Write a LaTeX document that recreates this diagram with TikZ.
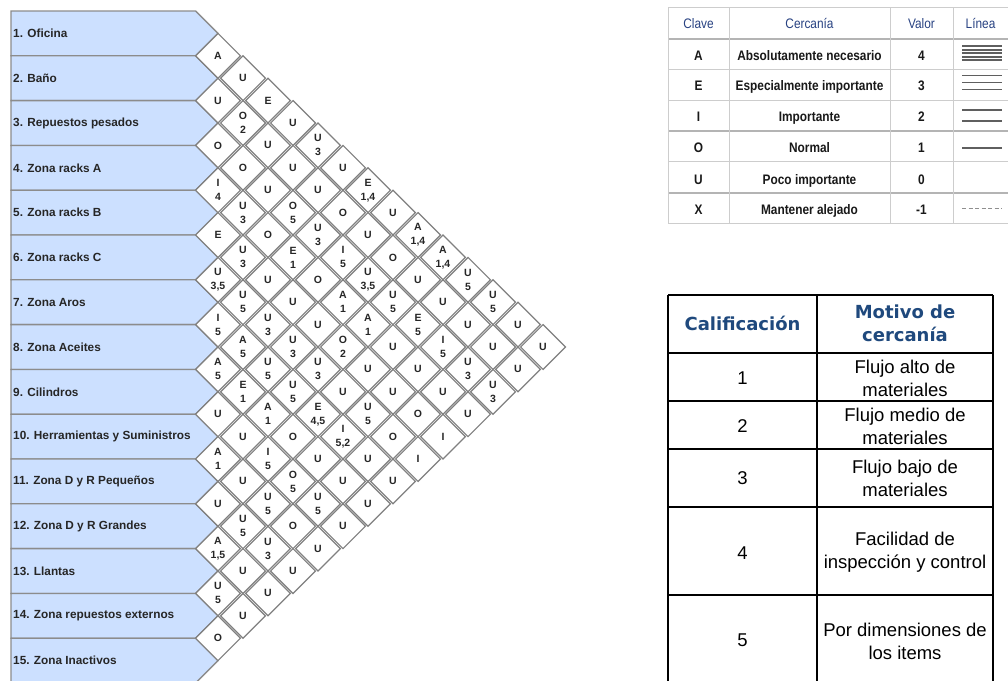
\documentclass[tikz,border=0pt]{standalone}
\usepackage{fontspec}
\setmainfont{Liberation Sans}
\newfontfamily\hdrfont{DejaVu Sans}
\newfontfamily\condfont[FakeStretch=0.86]{Liberation Sans}
\definecolor{boxfill}{RGB}{204,224,255}
\definecolor{boxline}{RGB}{140,140,140}
\definecolor{dline}{RGB}{128,128,128}
\definecolor{tgray}{RGB}{205,205,205}
\definecolor{tgrayk}{RGB}{180,180,180}
\definecolor{hblue}{RGB}{40,66,130}
\definecolor{hblueb}{RGB}{31,73,125}
\definecolor{lsym}{RGB}{95,95,95}
\newcommand\relcell[3]{%
  \path (218+25*#2-25*#1-25, 11+22.4*#1+22.4*#2-22.4) coordinate (c#1-#2);
  \draw[dmd] (c#1-#2) +(0,-22.4) -- +(22.4,0) -- +(0,22.4) -- +(-22.4,0) -- cycle;
  \node[dtxt] (d#1-#2) at (c#1-#2) {#3};
}
\begin{document}
\begin{tikzpicture}[x=1pt,y=-1pt,
  rowbox/.style={draw=boxline,line width=1.3pt,fill=boxfill,line join=miter},
  rowlbl/.style={anchor=west,inner sep=0pt,font=\fontsize{11.8}{14}\selectfont\bfseries,text=black!85},
  dmd/.style={draw=dline,line width=1.2pt,fill=white},
  dtxt/.style={inner sep=0pt,align=center,font=\fontsize{10.5}{14}\selectfont\bfseries,text=black!85},
  tone/.style={draw=tgray,line width=1pt},
  tonek/.style={draw=tgrayk,line width=2pt},
  t1h/.style={anchor=base,inner sep=0pt,font=\condfont\fontsize{13.8}{15}\selectfont,text=hblue},
  t1b/.style={anchor=base,inner sep=0pt,font=\condfont\bfseries\fontsize{13.8}{15}\selectfont,text=black!90},
  lsy/.style={draw=lsym,line width=1.8pt},
  ttwo/.style={draw=black,line width=1.5pt},
  t2h/.style={inner sep=0pt,align=center,font=\hdrfont\bfseries\fontsize{18}{23}\selectfont,text=hblueb},
  t2b/.style={inner sep=0pt,align=center,font=\fontsize{18.5}{23}\selectfont,text=black}
]
\useasboundingbox (0,0) rectangle (1008,680);
\clip (0,0) rectangle (1008,680);
\fill[white] (0,0) rectangle (1008,680);

% ---- department boxes ----
\foreach \i/\lab in {1/{1. Oficina},2/{2. Baño},3/{3. Repuestos pesados},4/{4. Zona racks A},
  5/{5. Zona racks B},6/{6. Zona racks C},7/{7. Zona Aros},8/{8. Zona Aceites},9/{9. Cilindros},
  10/{10. Herramientas y Suministros},11/{11. Zona D y R Pequeños},12/{12. Zona D y R Grandes},
  13/{13. Llantas},14/{14. Zona repuestos externos},15/{15. Zona Inactivos}}{
  \pgfmathsetmacro\yt{11+44.8*(\i-1)}
  \draw[rowbox] (11,\yt) -- (195.6,\yt) -- (218,\yt+22.4) -- (195.6,\yt+44.8) -- (11,\yt+44.8) -- cycle;
  \node[rowlbl] (r\i) at (13,\yt+22.4) {\lab};
}

% ---- relationship diamonds ----
\relcell{1}{2}{A}
\relcell{1}{3}{U}
\relcell{2}{3}{U}
\relcell{1}{4}{E}
\relcell{2}{4}{O\\2}
\relcell{1}{5}{U}
\relcell{3}{4}{O}
\relcell{2}{5}{U}
\relcell{1}{6}{U\\3}
\relcell{3}{5}{O}
\relcell{2}{6}{U}
\relcell{1}{7}{U}
\relcell{4}{5}{I\\4}
\relcell{3}{6}{U}
\relcell{2}{7}{U}
\relcell{1}{8}{E\\1,4}
\relcell{4}{6}{U\\3}
\relcell{3}{7}{O\\5}
\relcell{2}{8}{O}
\relcell{1}{9}{U}
\relcell{5}{6}{E}
\relcell{4}{7}{O}
\relcell{3}{8}{U\\3}
\relcell{2}{9}{U}
\relcell{1}{10}{A\\1,4}
\relcell{5}{7}{U\\3}
\relcell{4}{8}{E\\1}
\relcell{3}{9}{I\\5}
\relcell{2}{10}{O}
\relcell{1}{11}{A\\1,4}
\relcell{6}{7}{U\\3,5}
\relcell{5}{8}{U}
\relcell{4}{9}{O}
\relcell{3}{10}{U\\3,5}
\relcell{2}{11}{U}
\relcell{1}{12}{U\\5}
\relcell{6}{8}{U\\5}
\relcell{5}{9}{U}
\relcell{4}{10}{A\\1}
\relcell{3}{11}{U\\5}
\relcell{2}{12}{U}
\relcell{1}{13}{U\\5}
\relcell{7}{8}{I\\5}
\relcell{6}{9}{U\\3}
\relcell{5}{10}{U}
\relcell{4}{11}{A\\1}
\relcell{3}{12}{E\\5}
\relcell{2}{13}{U}
\relcell{1}{14}{U}
\relcell{7}{9}{A\\5}
\relcell{6}{10}{U\\3}
\relcell{5}{11}{O\\2}
\relcell{4}{12}{U}
\relcell{3}{13}{I\\5}
\relcell{2}{14}{U}
\relcell{1}{15}{U}
\relcell{8}{9}{A\\5}
\relcell{7}{10}{U\\5}
\relcell{6}{11}{U\\3}
\relcell{5}{12}{U}
\relcell{4}{13}{U}
\relcell{3}{14}{U\\3}
\relcell{2}{15}{U}
\relcell{8}{10}{E\\1}
\relcell{7}{11}{U\\5}
\relcell{6}{12}{U}
\relcell{5}{13}{U}
\relcell{4}{14}{U}
\relcell{3}{15}{U\\3}
\relcell{9}{10}{U}
\relcell{8}{11}{A\\1}
\relcell{7}{12}{E\\4,5}
\relcell{6}{13}{U\\5}
\relcell{5}{14}{O}
\relcell{4}{15}{U}
\relcell{9}{11}{U}
\relcell{8}{12}{O}
\relcell{7}{13}{I\\5,2}
\relcell{6}{14}{O}
\relcell{5}{15}{I}
\relcell{10}{11}{A\\1}
\relcell{9}{12}{I\\5}
\relcell{8}{13}{U}
\relcell{7}{14}{U}
\relcell{6}{15}{I}
\relcell{10}{12}{U}
\relcell{9}{13}{O\\5}
\relcell{8}{14}{U}
\relcell{7}{15}{U}
\relcell{11}{12}{U}
\relcell{10}{13}{U\\5}
\relcell{9}{14}{U\\5}
\relcell{8}{15}{U}
\relcell{11}{13}{U\\5}
\relcell{10}{14}{O}
\relcell{9}{15}{U}
\relcell{12}{13}{A\\1,5}
\relcell{11}{14}{U\\3}
\relcell{10}{15}{U}
\relcell{12}{14}{U}
\relcell{11}{15}{U}
\relcell{13}{14}{U\\5}
\relcell{12}{15}{U}
\relcell{13}{15}{U}
\relcell{14}{15}{O}

% ---- table 1: closeness codes ----
\foreach \yy in {7,69.3,100.1,161.7,223.3}{\draw[tone] (668,\yy) -- (1012,\yy);}
\foreach \yy in {38.5,130.9,192.5}{\draw[tonek] (668,\yy) -- (1012,\yy);}
\foreach \xx in {668,729,890,953}{\draw[tone] (\xx,7) -- (\xx,223.3);}
\node[t1h] (h1) at (698.5,28) {Clave};
\node[t1h] (h2) at (809.5,28) {Cercanía};
\node[t1h] (h3) at (921.5,28) {Valor};
\node[t1h] (h4) at (980.5,28) {Línea};
\foreach \k/\c/\d/\v/\yy in {a/A/{Absolutamente necesario}/4/60,e/E/{Especialmente importante}/3/90,
  i/I/{Importante}/2/121.5,o/O/{Normal}/1/152,u/U/{Poco importante}/0/184.5,x/X/{Mantener alejado}/-1/214.5}{
  \node[t1b] (k\k) at (698.5,\yy) {\c};
  \node[t1b] (n\k) at (809.5,\yy) {\d};
  \node[t1b] (v\k) at (921.5,\yy) {\v};
}
\foreach \yy in {46,49.6,53.2,56.8,60.4}{\draw[lsy,line width=1.9pt] (962,\yy) -- (1002,\yy);}
\foreach \yy in {75.5,82.5,89.5}{\draw[lsy] (962,\yy) -- (1002,\yy);}
\foreach \yy in {110,121}{\draw[lsy] (962,\yy) -- (1002,\yy);}
\draw[lsy] (962,148) -- (1002,148);
\draw[draw=lsym!70,line width=1.4pt,dash pattern=on 4pt off 2.5pt] (962,208.5) -- (1002,208.5);

% ---- table 2: reasons ----
\foreach \yy in {295,353,401,449,507,595}{\draw[ttwo] (668,\yy) -- (993,\yy);}
\foreach \xx in {668,817,993}{\draw[ttwo] (\xx,295) -- (\xx,690);}
\node[t2h] (g1) at (742.5,323) {Calificación};
\node[t2h] (g2) at (905,323.5) {Motivo de\\cercanía};
\node[t2b] (q1) at (742.5,378) {1};
\node[t2b] (m1) at (905,378.5) {Flujo alto de\\materiales};
\node[t2b] (q2) at (742.5,426) {2};
\node[t2b] (m2) at (905,426) {Flujo medio de\\materiales};
\node[t2b] (q3) at (742.5,478) {3};
\node[t2b] (m3) at (905,478.5) {Flujo bajo de\\materiales};
\node[t2b] (q4) at (742.5,553) {4};
\node[t2b] (m4) at (905,552.5) {Facilidad de\\inspección y control};
\node[t2b] (q5) at (742.5,640) {5};
\node[t2b] (m5) at (905,641) {Por dimensiones de\\los items};
\end{tikzpicture}
\end{document}
